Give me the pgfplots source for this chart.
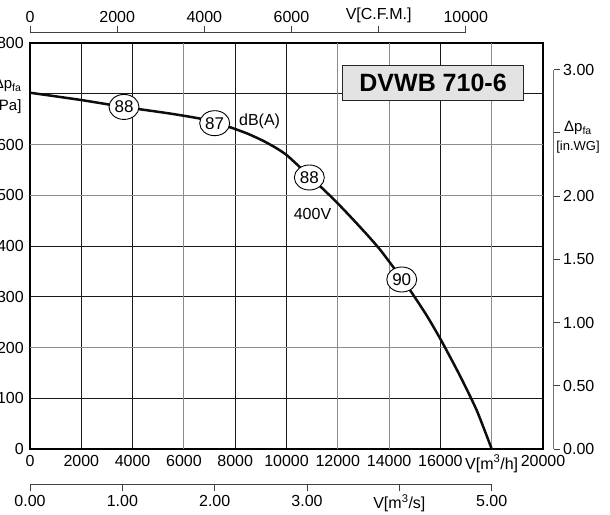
\documentclass[border=0pt]{standalone}
\usepackage{pgfplots}
\pgfplotsset{compat=1.18}
\usepackage{fontspec}
\setmainfont{Liberation Sans}
\usetikzlibrary{shapes.geometric}
\pgfplotstableread{
flow pa
0 702
1950 688
3665 674
5459 661
6628 651
7200 642
7800 634
8500 621
9100 607
9600 593
10010 579
10530 555
10890 538
11370 515
11960 486
12600 452
13200 419
13645 393
14036 367
14493 336
14816 313
15467 263
16052 212
16766 144
17417 76
18000 0
}\curve
\begin{document}
\begin{tikzpicture}[font=\fontsize{16}{19}\selectfont]
\begin{axis}[
  at={(0pt,0pt)}, anchor=south west,
  scale only axis, width=513pt, height=406pt,
  xmin=0, xmax=20000, ymin=0, ymax=800,
  scaled ticks=false,
  axis line style={line width=2.5pt, black},
  grid=major,
  major grid style={line width=1pt, black!90},
  major tick length=0pt,
  tick label style={font=\fontsize{16}{19}\selectfont},
  xtick={0,2000,4000,8000,10000,16000,20000},
  xticklabels={0,2000,4000,8000,10000,16000,20000},
  extra x ticks={6000,12000,14000,18000},
  extra x tick labels={6000,12000,14000,{V[m\textsuperscript{3}/h]}},
  extra x tick style={grid=major, major grid style={line width=1pt, black!45}},
  ytick={0,100,300,400,700,800},
  yticklabels={0,100,300,400,,800},
  extra y ticks={200,500,600},
  extra y tick labels={200,500,600},
  extra y tick style={grid=major, major grid style={line width=1pt, black!45}},
  xticklabel style={yshift=-2.4pt},
  yticklabel style={xshift=-2.7pt},
  clip=false,
]
\addplot[line width=2.5pt, black!95, smooth, tension=0.4] table[x=flow, y=pa] {\curve};
\addplot[only marks, mark=none, nodes near coords, point meta=explicit symbolic,
  every node near coord/.style={ellipse, draw, line width=0.9pt, fill=white, inner sep=0pt,
    minimum width=30pt, minimum height=25pt, anchor=center, font=\fontsize{17}{19}\selectfont}]
  coordinates {(3665,674) [88] (7200,642) [87] (10890,535) [88] (14493,334) [90]};
\node[font=\fontsize{16}{19}\selectfont] at (axis cs:8950,646) {dB(A)};
\node[font=\fontsize{16}{19}\selectfont] at (axis cs:11014,463) {400V};
\node[draw=black!85, line width=1.3pt, fill=black!11, minimum width=180.6pt, minimum height=35pt,
  inner sep=0pt, font=\fontsize{25}{28}\selectfont\bfseries] at (axis cs:15714,721) {DVWB 710-6};
\end{axis}
% top C.F.M. scale
\begin{axis}[
  at={(0pt,0pt)}, anchor=south west, scale only axis,
  width=435.8pt, height=416.7pt,
  xmin=0, xmax=10000, ymin=0, ymax=1,
  scaled ticks=false,
  axis x line*=top, axis y line=none,
  x axis line style={-, line width=1pt, black!75},
  xtick={0,2000,4000,6000,8000,10000},
  xticklabels={0,2000,4000,6000,{V[C.F.M.]},10000},
  tick align=outside, major tick length=6pt,
  tick style={line width=1pt, black!75},
  tick label style={font=\fontsize{16}{19}\selectfont},
]
\end{axis}
% bottom m3/s scale
\begin{axis}[
  at={(0pt,-35.3pt)}, anchor=south west, scale only axis,
  width=461.7pt, height=10pt,
  xmin=0, xmax=5, ymin=0, ymax=1,
  scaled ticks=false,
  axis x line*=bottom, axis y line=none,
  x axis line style={-, line width=1pt, black!75},
  xtick={0,1,2,3,4,5},
  xticklabels={0.00,1.00,2.00,3.00,{V[m\textsuperscript{3}/s]},5.00},
  tick align=outside, major tick length=7pt,
  tick style={line width=1pt, black!75},
  tick label style={font=\fontsize{16}{19}\selectfont},
]
\end{axis}
% right in.WG scale
\begin{axis}[
  at={(10.7pt,0pt)}, anchor=south west, scale only axis,
  width=513pt, height=379.2pt,
  xmin=0, xmax=1, ymin=0, ymax=3,
  scaled ticks=false,
  axis y line*=right, axis x line=none,
  y axis line style={-, line width=1pt, black!55},
  ytick={0,0.5,1,1.5,2,2.5,3},
  yticklabels={0.00,0.50,1.00,1.50,2.00,,3.00},
  tick align=outside, major tick length=6pt,
  tick style={line width=1pt, black!75},
  tick label style={font=\fontsize{16}{19}\selectfont},
]
\end{axis}
\node[align=right, anchor=east, font=\fontsize{15}{22}\selectfont] at (-5pt,353pt) {Δp\textsubscript{fa}\\{[Pa]}};
\node[align=center, font=\fontsize{15}{18.5}\selectfont] at (548pt,312pt) {Δp\textsubscript{fa}\\{\fontsize{13}{15}\selectfont[in.WG]}};
\pgfresetboundingbox
\useasboundingbox (-30pt,-65pt) rectangle (580pt,449pt);
\end{tikzpicture}
\end{document}
